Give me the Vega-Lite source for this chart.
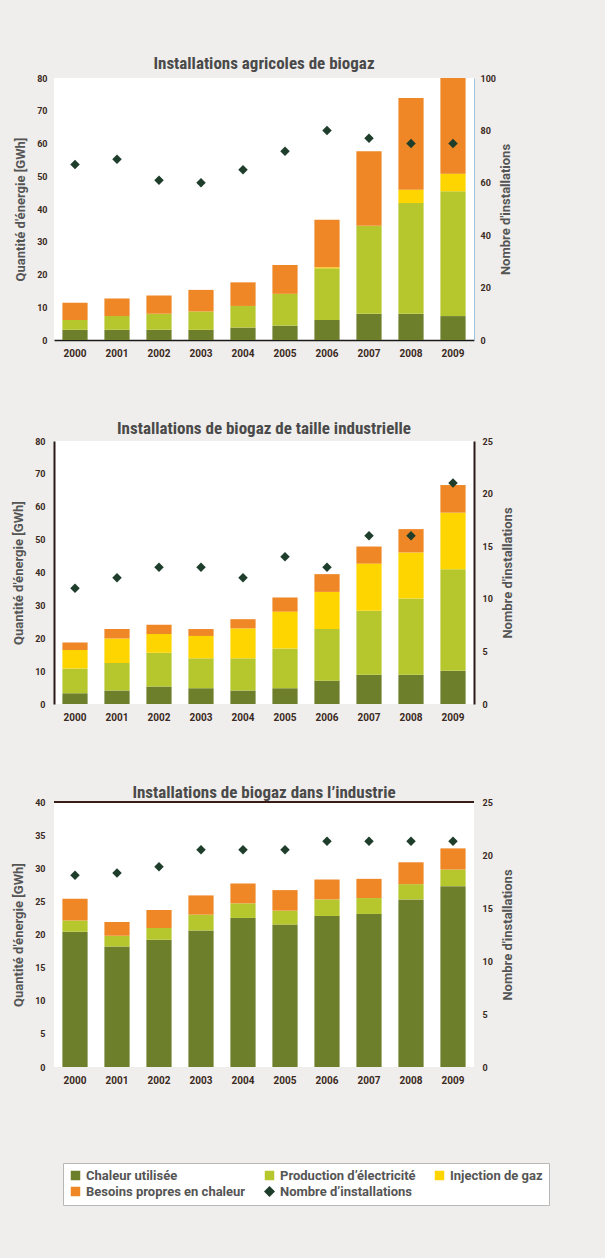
{
  "$schema": "https://vega.github.io/schema/vega-lite/v6.json",
  "background": "#efeeec",
  "padding": {"left": 12, "top": 55, "right": 55, "bottom": 58},
  "spacing": 62,
  "config": {
    "view": {"fill": "white", "stroke": null},
    "axis": {
      "grid": false, "ticks": false, "domain": false, "labelOverlap": false,
      "labelFont": "Roboto", "labelFontWeight": "bold", "labelFontSize": 9, "labelColor": "#3b2a22",
      "titleFont": "Roboto", "titleFontSize": 13, "titleFontWeight": "bold", "titleColor": "#555555"
    },
    "legend": {"gridAlign": "none"},
    "title": {"font": "Liberation Sans Narrow, Roboto Condensed, DejaVu Sans Condensed, sans-serif", "fontSize": 17, "fontWeight": "bold", "color": "#4a4a4a", "anchor": "middle"}
  },
  "datasets": {
    "agri_energie": [
      {"annee": "2000", "rang": 1, "source": "Chaleur utilisée", "gwh": 3.1}, {"annee": "2000", "rang": 2, "source": "Production d’électricité", "gwh": 3.0}, {"annee": "2000", "rang": 3, "source": "Injection de gaz", "gwh": 0}, {"annee": "2000", "rang": 4, "source": "Besoins propres en chaleur", "gwh": 5.3},
      {"annee": "2001", "rang": 1, "source": "Chaleur utilisée", "gwh": 3.1}, {"annee": "2001", "rang": 2, "source": "Production d’électricité", "gwh": 4.2}, {"annee": "2001", "rang": 3, "source": "Injection de gaz", "gwh": 0}, {"annee": "2001", "rang": 4, "source": "Besoins propres en chaleur", "gwh": 5.4},
      {"annee": "2002", "rang": 1, "source": "Chaleur utilisée", "gwh": 3.1}, {"annee": "2002", "rang": 2, "source": "Production d’électricité", "gwh": 4.9}, {"annee": "2002", "rang": 3, "source": "Injection de gaz", "gwh": 0}, {"annee": "2002", "rang": 4, "source": "Besoins propres en chaleur", "gwh": 5.6},
      {"annee": "2003", "rang": 1, "source": "Chaleur utilisée", "gwh": 3.1}, {"annee": "2003", "rang": 2, "source": "Production d’électricité", "gwh": 5.6}, {"annee": "2003", "rang": 3, "source": "Injection de gaz", "gwh": 0}, {"annee": "2003", "rang": 4, "source": "Besoins propres en chaleur", "gwh": 6.6},
      {"annee": "2004", "rang": 1, "source": "Chaleur utilisée", "gwh": 3.8}, {"annee": "2004", "rang": 2, "source": "Production d’électricité", "gwh": 6.6}, {"annee": "2004", "rang": 3, "source": "Injection de gaz", "gwh": 0}, {"annee": "2004", "rang": 4, "source": "Besoins propres en chaleur", "gwh": 7.2},
      {"annee": "2005", "rang": 1, "source": "Chaleur utilisée", "gwh": 4.4}, {"annee": "2005", "rang": 2, "source": "Production d’électricité", "gwh": 9.7}, {"annee": "2005", "rang": 3, "source": "Injection de gaz", "gwh": 0}, {"annee": "2005", "rang": 4, "source": "Besoins propres en chaleur", "gwh": 8.8},
      {"annee": "2006", "rang": 1, "source": "Chaleur utilisée", "gwh": 6.1}, {"annee": "2006", "rang": 2, "source": "Production d’électricité", "gwh": 15.8}, {"annee": "2006", "rang": 3, "source": "Injection de gaz", "gwh": 0.3}, {"annee": "2006", "rang": 4, "source": "Besoins propres en chaleur", "gwh": 14.5},
      {"annee": "2007", "rang": 1, "source": "Chaleur utilisée", "gwh": 8.0}, {"annee": "2007", "rang": 2, "source": "Production d’électricité", "gwh": 26.9}, {"annee": "2007", "rang": 3, "source": "Injection de gaz", "gwh": 0}, {"annee": "2007", "rang": 4, "source": "Besoins propres en chaleur", "gwh": 22.7},
      {"annee": "2008", "rang": 1, "source": "Chaleur utilisée", "gwh": 8.0}, {"annee": "2008", "rang": 2, "source": "Production d’électricité", "gwh": 33.8}, {"annee": "2008", "rang": 3, "source": "Injection de gaz", "gwh": 4.1}, {"annee": "2008", "rang": 4, "source": "Besoins propres en chaleur", "gwh": 28.0},
      {"annee": "2009", "rang": 1, "source": "Chaleur utilisée", "gwh": 7.3}, {"annee": "2009", "rang": 2, "source": "Production d’électricité", "gwh": 38.1}, {"annee": "2009", "rang": 3, "source": "Injection de gaz", "gwh": 5.4}, {"annee": "2009", "rang": 4, "source": "Besoins propres en chaleur", "gwh": 29.2}
    ],
    "agri_installations": [
      {"annee": "2000", "installations": 67}, {"annee": "2001", "installations": 69}, {"annee": "2002", "installations": 61}, {"annee": "2003", "installations": 60}, {"annee": "2004", "installations": 65},
      {"annee": "2005", "installations": 72}, {"annee": "2006", "installations": 80}, {"annee": "2007", "installations": 77}, {"annee": "2008", "installations": 75}, {"annee": "2009", "installations": 75}
    ],
    "grande_energie": [
      {"annee": "2000", "rang": 1, "source": "Chaleur utilisée", "gwh": 3.3}, {"annee": "2000", "rang": 2, "source": "Production d’électricité", "gwh": 7.5}, {"annee": "2000", "rang": 3, "source": "Injection de gaz", "gwh": 5.6}, {"annee": "2000", "rang": 4, "source": "Besoins propres en chaleur", "gwh": 2.3},
      {"annee": "2001", "rang": 1, "source": "Chaleur utilisée", "gwh": 4.1}, {"annee": "2001", "rang": 2, "source": "Production d’électricité", "gwh": 8.4}, {"annee": "2001", "rang": 3, "source": "Injection de gaz", "gwh": 7.4}, {"annee": "2001", "rang": 4, "source": "Besoins propres en chaleur", "gwh": 2.9},
      {"annee": "2002", "rang": 1, "source": "Chaleur utilisée", "gwh": 5.3}, {"annee": "2002", "rang": 2, "source": "Production d’électricité", "gwh": 10.3}, {"annee": "2002", "rang": 3, "source": "Injection de gaz", "gwh": 5.7}, {"annee": "2002", "rang": 4, "source": "Besoins propres en chaleur", "gwh": 2.8},
      {"annee": "2003", "rang": 1, "source": "Chaleur utilisée", "gwh": 4.8}, {"annee": "2003", "rang": 2, "source": "Production d’électricité", "gwh": 9.1}, {"annee": "2003", "rang": 3, "source": "Injection de gaz", "gwh": 6.8}, {"annee": "2003", "rang": 4, "source": "Besoins propres en chaleur", "gwh": 2.1},
      {"annee": "2004", "rang": 1, "source": "Chaleur utilisée", "gwh": 4.1}, {"annee": "2004", "rang": 2, "source": "Production d’électricité", "gwh": 9.8}, {"annee": "2004", "rang": 3, "source": "Injection de gaz", "gwh": 9.1}, {"annee": "2004", "rang": 4, "source": "Besoins propres en chaleur", "gwh": 2.8},
      {"annee": "2005", "rang": 1, "source": "Chaleur utilisée", "gwh": 4.8}, {"annee": "2005", "rang": 2, "source": "Production d’électricité", "gwh": 12.1}, {"annee": "2005", "rang": 3, "source": "Injection de gaz", "gwh": 11.2}, {"annee": "2005", "rang": 4, "source": "Besoins propres en chaleur", "gwh": 4.3},
      {"annee": "2006", "rang": 1, "source": "Chaleur utilisée", "gwh": 7.1}, {"annee": "2006", "rang": 2, "source": "Production d’électricité", "gwh": 15.7}, {"annee": "2006", "rang": 3, "source": "Injection de gaz", "gwh": 11.3}, {"annee": "2006", "rang": 4, "source": "Besoins propres en chaleur", "gwh": 5.4},
      {"annee": "2007", "rang": 1, "source": "Chaleur utilisée", "gwh": 8.9}, {"annee": "2007", "rang": 2, "source": "Production d’électricité", "gwh": 19.5}, {"annee": "2007", "rang": 3, "source": "Injection de gaz", "gwh": 14.3}, {"annee": "2007", "rang": 4, "source": "Besoins propres en chaleur", "gwh": 5.2},
      {"annee": "2008", "rang": 1, "source": "Chaleur utilisée", "gwh": 8.9}, {"annee": "2008", "rang": 2, "source": "Production d’électricité", "gwh": 23.2}, {"annee": "2008", "rang": 3, "source": "Injection de gaz", "gwh": 14.0}, {"annee": "2008", "rang": 4, "source": "Besoins propres en chaleur", "gwh": 7.1},
      {"annee": "2009", "rang": 1, "source": "Chaleur utilisée", "gwh": 10.1}, {"annee": "2009", "rang": 2, "source": "Production d’électricité", "gwh": 30.9}, {"annee": "2009", "rang": 3, "source": "Injection de gaz", "gwh": 17.2}, {"annee": "2009", "rang": 4, "source": "Besoins propres en chaleur", "gwh": 8.4}
    ],
    "grande_installations": [
      {"annee": "2000", "installations": 11}, {"annee": "2001", "installations": 12}, {"annee": "2002", "installations": 13}, {"annee": "2003", "installations": 13}, {"annee": "2004", "installations": 12},
      {"annee": "2005", "installations": 14}, {"annee": "2006", "installations": 13}, {"annee": "2007", "installations": 16}, {"annee": "2008", "installations": 16}, {"annee": "2009", "installations": 21}
    ],
    "industrie_energie": [
      {"annee": "2000", "rang": 1, "source": "Chaleur utilisée", "gwh": 20.4}, {"annee": "2000", "rang": 2, "source": "Production d’électricité", "gwh": 1.7}, {"annee": "2000", "rang": 3, "source": "Injection de gaz", "gwh": 0}, {"annee": "2000", "rang": 4, "source": "Besoins propres en chaleur", "gwh": 3.3},
      {"annee": "2001", "rang": 1, "source": "Chaleur utilisée", "gwh": 18.2}, {"annee": "2001", "rang": 2, "source": "Production d’électricité", "gwh": 1.6}, {"annee": "2001", "rang": 3, "source": "Injection de gaz", "gwh": 0}, {"annee": "2001", "rang": 4, "source": "Besoins propres en chaleur", "gwh": 2.1},
      {"annee": "2002", "rang": 1, "source": "Chaleur utilisée", "gwh": 19.2}, {"annee": "2002", "rang": 2, "source": "Production d’électricité", "gwh": 1.8}, {"annee": "2002", "rang": 3, "source": "Injection de gaz", "gwh": 0}, {"annee": "2002", "rang": 4, "source": "Besoins propres en chaleur", "gwh": 2.7},
      {"annee": "2003", "rang": 1, "source": "Chaleur utilisée", "gwh": 20.6}, {"annee": "2003", "rang": 2, "source": "Production d’électricité", "gwh": 2.4}, {"annee": "2003", "rang": 3, "source": "Injection de gaz", "gwh": 0}, {"annee": "2003", "rang": 4, "source": "Besoins propres en chaleur", "gwh": 2.9},
      {"annee": "2004", "rang": 1, "source": "Chaleur utilisée", "gwh": 22.5}, {"annee": "2004", "rang": 2, "source": "Production d’électricité", "gwh": 2.2}, {"annee": "2004", "rang": 3, "source": "Injection de gaz", "gwh": 0}, {"annee": "2004", "rang": 4, "source": "Besoins propres en chaleur", "gwh": 3.0},
      {"annee": "2005", "rang": 1, "source": "Chaleur utilisée", "gwh": 21.5}, {"annee": "2005", "rang": 2, "source": "Production d’électricité", "gwh": 2.1}, {"annee": "2005", "rang": 3, "source": "Injection de gaz", "gwh": 0}, {"annee": "2005", "rang": 4, "source": "Besoins propres en chaleur", "gwh": 3.1},
      {"annee": "2006", "rang": 1, "source": "Chaleur utilisée", "gwh": 22.8}, {"annee": "2006", "rang": 2, "source": "Production d’électricité", "gwh": 2.5}, {"annee": "2006", "rang": 3, "source": "Injection de gaz", "gwh": 0}, {"annee": "2006", "rang": 4, "source": "Besoins propres en chaleur", "gwh": 3.0},
      {"annee": "2007", "rang": 1, "source": "Chaleur utilisée", "gwh": 23.1}, {"annee": "2007", "rang": 2, "source": "Production d’électricité", "gwh": 2.4}, {"annee": "2007", "rang": 3, "source": "Injection de gaz", "gwh": 0}, {"annee": "2007", "rang": 4, "source": "Besoins propres en chaleur", "gwh": 2.9},
      {"annee": "2008", "rang": 1, "source": "Chaleur utilisée", "gwh": 25.3}, {"annee": "2008", "rang": 2, "source": "Production d’électricité", "gwh": 2.3}, {"annee": "2008", "rang": 3, "source": "Injection de gaz", "gwh": 0}, {"annee": "2008", "rang": 4, "source": "Besoins propres en chaleur", "gwh": 3.3},
      {"annee": "2009", "rang": 1, "source": "Chaleur utilisée", "gwh": 27.3}, {"annee": "2009", "rang": 2, "source": "Production d’électricité", "gwh": 2.5}, {"annee": "2009", "rang": 3, "source": "Injection de gaz", "gwh": 0}, {"annee": "2009", "rang": 4, "source": "Besoins propres en chaleur", "gwh": 3.2}
    ],
    "industrie_installations": [
      {"annee": "2000", "installations": 18.1}, {"annee": "2001", "installations": 18.3}, {"annee": "2002", "installations": 18.9}, {"annee": "2003", "installations": 20.5}, {"annee": "2004", "installations": 20.5},
      {"annee": "2005", "installations": 20.5}, {"annee": "2006", "installations": 21.3}, {"annee": "2007", "installations": 21.3}, {"annee": "2008", "installations": 21.3}, {"annee": "2009", "installations": 21.3}
    ]
  },
  "vconcat": [
    {
      "width": 420, "height": 262,
      "title": {"text": "Installations agricoles de biogaz", "offset": 1},
      "layer": [
        {
          "data": {"name": "agri_energie"},
          "mark": {"type": "bar"},
          "encoding": {
            "x": {"field": "annee", "type": "ordinal", "scale": {"paddingInner": 0.4, "paddingOuter": 0.2},
                  "axis": {"title": null, "labelAngle": 0, "labelPadding": 8, "labelFontSize": 10, "domain": true, "domainColor": "#1a1a1a", "domainWidth": 1.5}},
            "y": {"field": "gwh", "type": "quantitative", "stack": "zero", "scale": {"domain": [0, 80]},
                  "axis": {"title": "Quantité d'énergie [GWh]", "values": [0, 10, 20, 30, 40, 50, 60, 70, 80], "labelOverlap": false, "labelPadding": 7, "titlePadding": 9}},
            "order": {"field": "rang", "type": "quantitative", "sort": "ascending"},
            "color": {"field": "source", "type": "nominal",
                      "scale": {"domain": ["Chaleur utilisée", "Production d’électricité", "Injection de gaz", "Besoins propres en chaleur", "Nombre d’installations"], "range": ["#6e7f2c", "#b6c72e", "#ffd500", "#ef8726", "#1e3d2a"]},
                      "legend": {"title": null, "orient": "none", "legendX": 9, "legendY": 1085, "direction": "horizontal", "columns": 3, "gridAlign": "none", "columnPadding": 17, "rowPadding": 2, "padding": 6, "fillColor": "white", "strokeColor": "#b8b8b8", "symbolType": "square", "symbolSize": 90, "symbolStrokeWidth": 0, "labelOffset": 4, "labelFont": "Roboto", "labelFontSize": 13, "labelFontWeight": "bold", "labelColor": "#555555", "labelLimit": 300,
                        "encode": {"symbols": {"update": {"shape": {"signal": "datum.label == 'Nombre d’installations' ? 'diamond' : 'square'"}, "size": {"signal": "datum.label == 'Nombre d’installations' ? 120 : 90"}}}}}}
          }
        },
        {
          "data": {"name": "agri_installations"},
          "mark": {"type": "point", "shape": "diamond", "filled": true, "size": 90, "opacity": 1},
          "encoding": {
            "x": {"field": "annee", "type": "ordinal"},
            "y": {"field": "installations", "type": "quantitative", "scale": {"domain": [0, 100]},
                  "axis": {"orient": "right", "title": "Nombre d'installations", "titleAngle": 270, "titleBaseline": "top", "values": [0, 20, 40, 60, 80, 100], "labelOverlap": false, "labelPadding": 6, "titlePadding": 4, "domain": true, "domainColor": "#9fc3dc", "domainWidth": 1}},
            "color": {"datum": "Nombre d’installations", "type": "nominal"}
          }
        }
      ],
      "resolve": {"scale": {"y": "independent"}}
    },
    {
      "width": 420, "height": 263,
      "title": {"text": "Installations de biogaz de taille industrielle", "offset": -1},
      "layer": [
        {
          "data": {"name": "grande_energie"},
          "mark": {"type": "bar"},
          "encoding": {
            "x": {"field": "annee", "type": "ordinal", "scale": {"paddingInner": 0.4, "paddingOuter": 0.2},
                  "axis": {"title": null, "labelAngle": 0, "labelPadding": 8, "labelFontSize": 10}},
            "y": {"field": "gwh", "type": "quantitative", "stack": "zero", "scale": {"domain": [0, 80]},
                  "axis": {"title": "Quantité d'énergie [GWh]", "values": [0, 10, 20, 30, 40, 50, 60, 70, 80], "labelOverlap": false, "labelPadding": 9, "titlePadding": 9, "domain": true, "domainColor": "#2b1a17", "domainWidth": 2}},
            "order": {"field": "rang", "type": "quantitative", "sort": "ascending"},
            "color": {"field": "source", "type": "nominal",
                      "scale": {"domain": ["Chaleur utilisée", "Production d’électricité", "Injection de gaz", "Besoins propres en chaleur", "Nombre d’installations"], "range": ["#6e7f2c", "#b6c72e", "#ffd500", "#ef8726", "#1e3d2a"]}}
          }
        },
        {
          "data": {"name": "grande_installations"},
          "mark": {"type": "point", "shape": "diamond", "filled": true, "size": 90, "opacity": 1},
          "encoding": {
            "x": {"field": "annee", "type": "ordinal"},
            "y": {"field": "installations", "type": "quantitative", "scale": {"domain": [0, 25]},
                  "axis": {"orient": "right", "title": "Nombre d'installations", "titleAngle": 270, "titleBaseline": "top", "values": [0, 5, 10, 15, 20, 25], "labelOverlap": false, "labelPadding": 8, "titlePadding": 9, "domain": true, "domainColor": "#2b1a17", "domainWidth": 2}},
            "color": {"datum": "Nombre d’installations", "type": "nominal"}
          }
        }
      ],
      "resolve": {"scale": {"y": "independent"}}
    },
    {
      "width": 420, "height": 265,
      "title": {"text": "Installations de biogaz dans l’industrie", "offset": -4},
      "layer": [
        {
          "layer": [
            {
              "data": {"name": "industrie_energie"},
              "mark": {"type": "bar"},
              "encoding": {
                "x": {"field": "annee", "type": "ordinal", "scale": {"paddingInner": 0.4, "paddingOuter": 0.2},
                      "axis": {"title": null, "labelAngle": 0, "labelPadding": 8, "labelFontSize": 10}},
                "y": {"field": "gwh", "type": "quantitative", "stack": "zero", "scale": {"domain": [0, 40]},
                      "axis": {"title": "Quantité d'énergie [GWh]", "values": [0, 5, 10, 15, 20, 25, 30, 35, 40], "labelOverlap": false, "labelPadding": 9, "titlePadding": 9}},
                "order": {"field": "rang", "type": "quantitative", "sort": "ascending"},
                "color": {"field": "source", "type": "nominal",
                          "scale": {"domain": ["Chaleur utilisée", "Production d’électricité", "Injection de gaz", "Besoins propres en chaleur", "Nombre d’installations"], "range": ["#6e7f2c", "#b6c72e", "#ffd500", "#ef8726", "#1e3d2a"]}}
              }
            },
            {
              "data": {"values": [{"niveau": 40}]},
              "mark": {"type": "rule", "color": "#3a1c16", "strokeWidth": 2},
              "encoding": {"y": {"field": "niveau", "type": "quantitative",
                                 "axis": {"title": "Quantité d'énergie [GWh]", "values": [0, 5, 10, 15, 20, 25, 30, 35, 40], "labelOverlap": false, "labelPadding": 9, "titlePadding": 9}}}
            }
          ]
        },
        {
          "data": {"name": "industrie_installations"},
          "mark": {"type": "point", "shape": "diamond", "filled": true, "size": 90, "opacity": 1},
          "encoding": {
            "x": {"field": "annee", "type": "ordinal"},
            "y": {"field": "installations", "type": "quantitative", "scale": {"domain": [0, 25]},
                  "axis": {"orient": "right", "title": "Nombre d'installations", "titleAngle": 270, "titleBaseline": "top", "values": [0, 5, 10, 15, 20, 25], "labelOverlap": false, "labelPadding": 8, "titlePadding": 9}},
            "color": {"datum": "Nombre d’installations", "type": "nominal"}
          }
        }
      ],
      "resolve": {"scale": {"y": "independent"}}
    }
  ],
  "resolve": {"scale": {"color": "shared"}, "legend": {"color": "shared"}}
}
